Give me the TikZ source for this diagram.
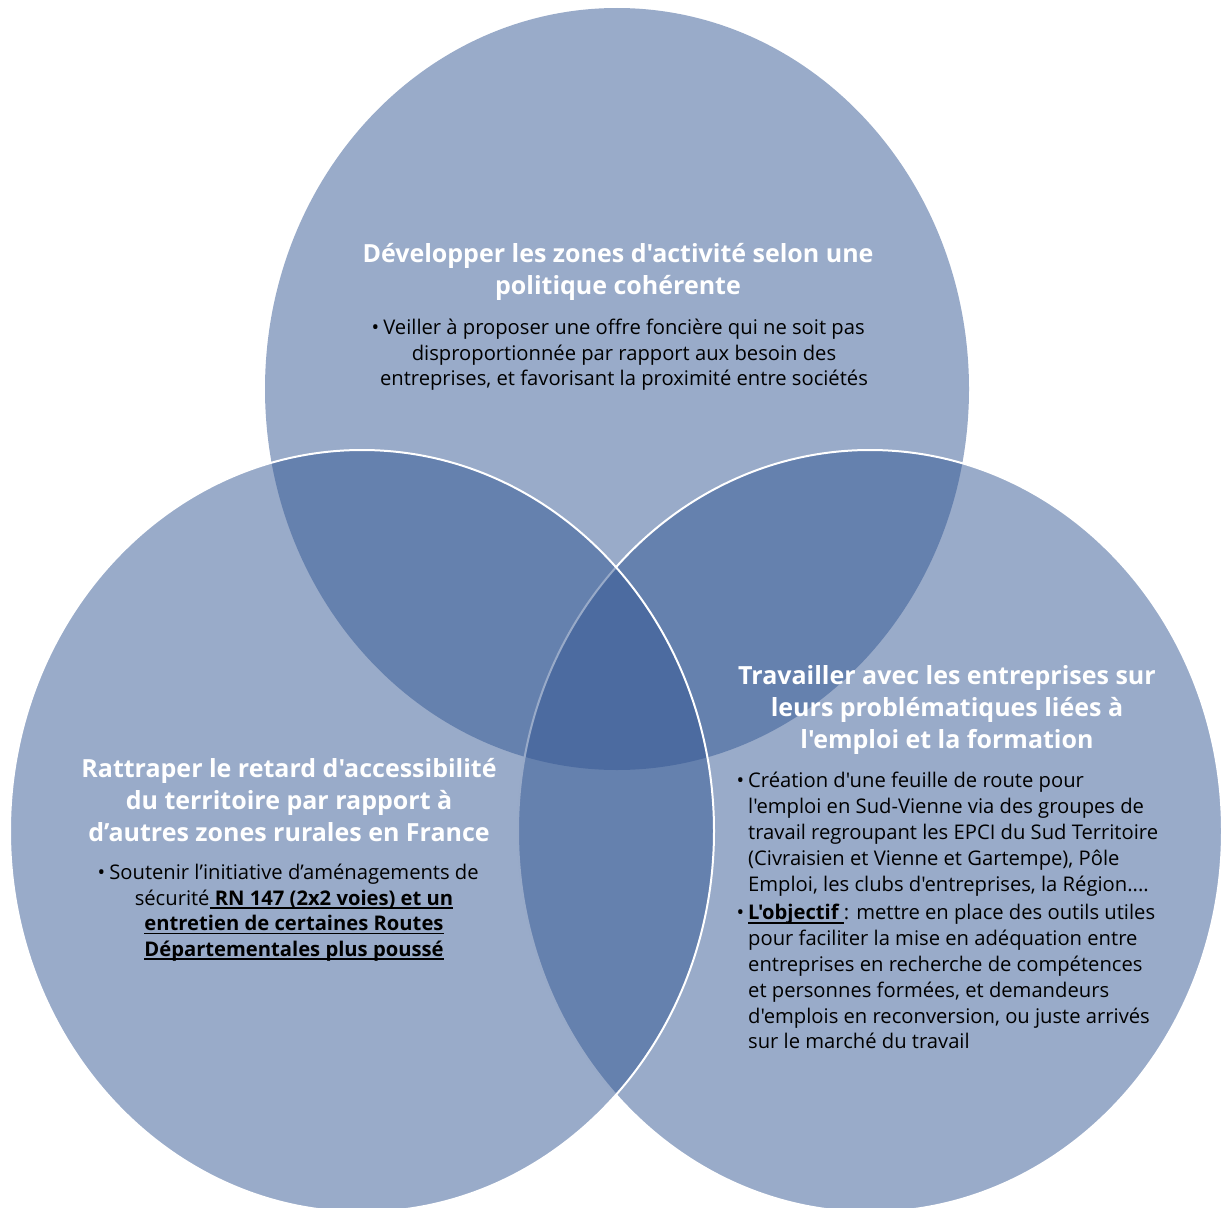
\documentclass[tikz,border=0pt]{standalone}
\usepackage{fontspec}
\newfontfamily\vf{Open Sans}
\definecolor{vennblue}{RGB}{51,87,147}
\newcommand{\myul}[1]{\setbox0=\hbox{#1}\rlap{\rule[-3.8pt]{\wd0}{1.6pt}}\box0}
\begin{document}
\begin{tikzpicture}[x=1pt,y=-1pt,
  venn/.style={fill=vennblue, fill opacity=0.5},
  vout/.style={draw=white, line width=2pt},
  ttl/.style={text=white, font=\vf\bfseries\fontsize{25}{32}\selectfont, align=center, inner sep=0pt, anchor=north},
  bdy/.style={text=black, font=\vf\fontsize{20.2}{25.4}\selectfont, align=center, inner sep=0pt, anchor=north},
  bdyl/.style={text=black, font=\vf\fontsize{20.2}{25.8}\selectfont, align=left, inner sep=0pt, anchor=north west}]
\useasboundingbox (0,0) rectangle (1223,1207);
% circles
\fill[venn] (617,389) ellipse [x radius=352pt, y radius=381pt];
\fill[venn] (870,831) ellipse [x radius=352pt, y radius=381pt];
\draw[vout] (870,831) ellipse [x radius=352pt, y radius=381pt];
\fill[venn] (362,831) ellipse [x radius=352pt, y radius=381pt];
\draw[vout] (362,831) ellipse [x radius=352pt, y radius=381pt];
% top
\node[ttl] (ttop) at (618,242.8) {Développer les zones d'activité selon une\\politique cohérente};
\node[bdy] (btop) at (624,319.2) {\llap{•\hspace{4pt}}Veiller à proposer une offre foncière qui ne soit pas\\disproportionnée par rapport aux besoin des\\entreprises, et favorisant la proximité entre sociétés};
% left
\node[ttl] (tleft) at (289,757.8) {Rattraper le retard d'accessibilité\\du territoire par rapport à\\d’autres zones rurales en France};
\node[bdy] (bleft) at (294,864.2) {\llap{•\hspace{4pt}}Soutenir l’initiative d’aménagements de\\sécurité\myul{\bfseries\ RN 147 (2x2 voies) et un}\\\myul{\bfseries entretien de certaines Routes}\\\myul{\bfseries Départementales plus poussé}};
% right
\node[ttl] (tright) at (947,665) {Travailler avec les entreprises sur\\leurs problématiques liées à\\l'emploi et la formation};
\node[bdyl] (bright) at (748,772.2) {\llap{•\hspace{4pt}}Création d'une feuille de route pour\\l'emploi en Sud-Vienne via des groupes de\\travail regroupant les EPCI du Sud Territoire\\(Civraisien et Vienne et Gartempe), Pôle\\Emploi, les clubs d'entreprises, la Région....\\[3pt]\llap{•\hspace{4pt}}\myul{\bfseries L'objectif\ }: mettre en place des outils utiles\\pour faciliter la mise en adéquation entre\\entreprises en recherche de compétences\\et personnes formées, et demandeurs\\d'emplois en reconversion, ou juste arrivés\\sur le marché du travail};
\end{tikzpicture}
\end{document}
